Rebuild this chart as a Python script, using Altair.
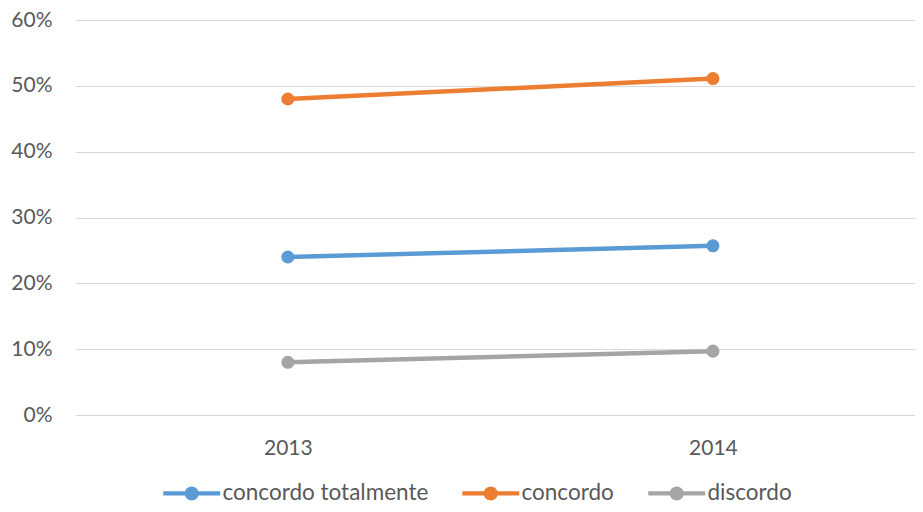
import altair as alt
import pandas as pd

years = ["2013", "2014"]
series = ["concordo totalmente", "concordo", "discordo"]
concordo_totalmente = [0.240, 0.257]
concordo = [0.480, 0.511]
discordo = [0.080, 0.097]
colors = ["#5B9BD5", "#ED7D31", "#A5A5A5"]
y_ticks = [0, 0.1, 0.2, 0.3, 0.4, 0.5, 0.6]

rows = []
for name, vals in zip(series, [concordo_totalmente, concordo, discordo]):
    for yr, v in zip(years, vals):
        rows.append({"ano": yr, "serie": name, "valor": v})
df = pd.DataFrame(rows)

FONT = "Lato"
FS = 21
sym = "M -4.07 -0.32 H 4.07 V 0.32 H -4.07 Z M 1 0 A 1 1 0 1 1 -1 0 A 1 1 0 1 1 1 0 Z"

legend = alt.Legend(title=None, orient="none", direction="horizontal",
                    legendX=105.5, legendY=462, padding=0,
                    symbolType=sym, symbolSize=196,
                    symbolStrokeWidth=0, symbolOpacity=1,
                    labelOffset=19.5, columnPadding=33,
                    labelFont=FONT, labelFontSize=22.5,
                    labelColor="#595959", labelLimit=400)

x = alt.X("ano:O", title=None,
          scale=alt.Scale(type="point", padding=0.488, align=0.513),
          axis=alt.Axis(labelAngle=0, ticks=False, domain=False, grid=False,
                        labelPadding=22, labelFontSize=FS, labelFont=FONT,
                        labelColor="#595959"))
y = alt.Y("valor:Q", title=None,
          scale=alt.Scale(domain=[0, 0.6], nice=False),
          axis=alt.Axis(values=y_ticks, format=".0%", ticks=False, domain=False,
                        gridColor="#d9d9d9", gridWidth=1, labelPadding=23,
                        labelFontSize=FS, labelFont=FONT, labelColor="#595959"))
color_scale = alt.Scale(domain=series, range=colors)

lines = alt.Chart(df).mark_line(strokeWidth=4.5).encode(
    x=x, y=y,
    color=alt.Color("serie:N", scale=color_scale, legend=legend),
    detail="serie:N",
)
points = alt.Chart(df).mark_point(filled=True, size=170, opacity=1).encode(
    x=x, y=y,
    color=alt.Color("serie:N", scale=color_scale, legend=legend),
)

chart = alt.layer(lines, points).properties(
    width=840, height=395,
    padding={"left": 67, "top": 12, "right": 0, "bottom": 89},
    autosize=alt.AutoSizeParams(type="none"),
).configure_view(stroke=None)

chart.save("out.html", embed_options={"renderer": "svg", "actions": False})
